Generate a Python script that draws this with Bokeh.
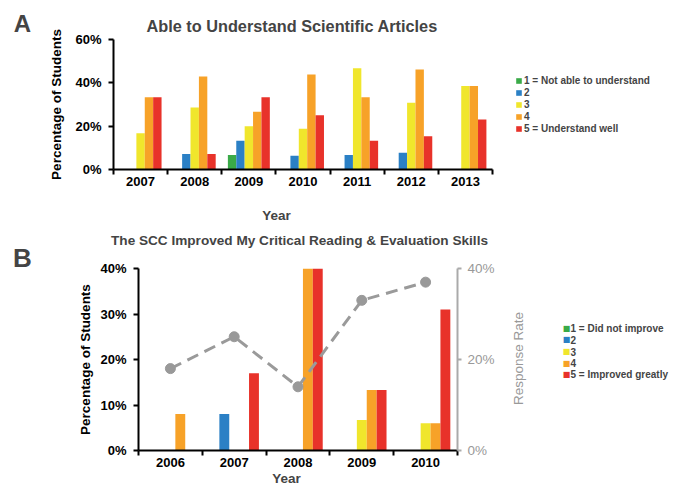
import math
from bokeh.plotting import figure
from bokeh.models import (Range1d, LinearAxis, FixedTicker, PrintfTickFormatter,
                          Legend, LegendItem, Label, ColumnDataSource)
from bokeh.transform import dodge
from bokeh.embed import file_html
from bokeh.resources import INLINE

FONT = "Liberation Sans"

# ---------------- Panel A data ----------------
years_a = ["2007", "2008", "2009", "2010", "2011", "2012", "2013"]
a_s1 = [0, 0, 6.7, 0, 0, 0, 0]
a_s2 = [0, 7.1, 13.3, 6.3, 6.7, 7.7, 0]
a_s3 = [16.7, 28.6, 20.0, 18.8, 46.7, 30.8, 38.5]
a_s4 = [33.3, 42.9, 26.7, 43.8, 33.3, 46.2, 38.5]
a_s5 = [33.3, 7.1, 33.3, 25.0, 13.3, 15.4, 23.1]
a_labels = ["1 = Not able to understand", "2", "3", "4", "5 = Understand well"]
a_yticks = [0, 20, 40, 60]
a_title = "Able to Understand Scientific Articles"

# ---------------- Panel B data ----------------
years_b = ["2006", "2007", "2008", "2009", "2010"]
b_s1 = [0, 0, 0, 0, 0]
b_s2 = [0, 8, 0, 0, 0]
b_s3 = [0, 0, 0, 6.7, 6]
b_s4 = [8, 0, 40, 13.3, 6]
b_s5 = [0, 17, 40, 13.3, 31]
b_rate = [18, 25, 14, 33, 37]
b_labels = ["1 = Did not improve", "2", "3", "4", "5 = Improved greatly"]
b_yticks = [0, 10, 20, 30, 40]
b_rate_ticks = [0, 20, 40]
b_title = "The SCC Improved My Critical Reading & Evaluation Skills"

colors = ["#3aaa48", "#2b80c5", "#f0e62c", "#f7a228", "#e8322a"]
BAR_W = 0.155


def make_panel(years, series, yticks, ymax, letter,
               fw, fh, bl, br, bt, bb, year_px, letter_px, letter_size,
               ylabel_standoff):
    n = len(years)
    H = bt + fh + bb
    p = figure(frame_width=fw, frame_height=fh, output_backend="svg",
               toolbar_location=None,
               x_range=Range1d(0, n), y_range=Range1d(0, ymax),
               min_border_left=bl, min_border_right=br,
               min_border_top=bt, min_border_bottom=bb)
    p.outline_line_color = None
    p.xgrid.visible = False
    p.ygrid.visible = False

    centers = [i + 0.5 for i in range(n)]
    renderers = []
    for k, vals in enumerate(series):
        src = ColumnDataSource(dict(x=centers, top=vals))
        r = p.vbar(x=dodge("x", (k - 2) * BAR_W, range=p.x_range), top="top",
                   width=BAR_W, bottom=0, source=src,
                   fill_color=colors[k], line_color=None)
        renderers.append(r)

    # x axis: labels at category centres, tick marks at boundaries
    xa = p.xaxis[0]
    xa.ticker = FixedTicker(ticks=centers, minor_ticks=list(range(n + 1)))
    xa.major_label_overrides = {c: y for c, y in zip(centers, years)}
    xa.major_tick_line_color = None
    xa.major_tick_out = 0
    xa.major_tick_in = 0
    xa.minor_tick_line_color = "black"
    xa.minor_tick_line_width = 2
    xa.minor_tick_out = 5
    xa.minor_tick_in = 0
    xa.axis_line_width = 2
    xa.axis_line_color = "black"
    xa.major_label_text_font = FONT
    xa.major_label_text_font_style = "bold"
    xa.major_label_text_font_size = "13px"
    xa.major_label_text_color = "black"
    xa.major_label_standoff = 2

    ya = p.yaxis[0]
    ya.ticker = FixedTicker(ticks=yticks)
    ya.formatter = PrintfTickFormatter(format="%d%%")
    ya.major_tick_out = 5
    ya.major_tick_in = 0
    ya.major_tick_line_width = 2
    ya.minor_tick_line_color = None
    ya.axis_line_width = 2
    ya.major_label_text_font = FONT
    ya.major_label_text_font_style = "bold"
    ya.major_label_text_font_size = "13px"
    ya.major_label_text_color = "black"
    ya.major_label_standoff = 7
    ya.axis_label = "Percentage of Students"
    ya.axis_label_text_font = FONT
    ya.axis_label_text_font_style = "bold"
    ya.axis_label_text_font_size = "13.5px"
    ya.axis_label_text_color = "black"
    ya.axis_label_standoff = ylabel_standoff

    # helpers converting figure-pixel positions to data positions
    def dx(px):
        return (px - bl) / fw * n

    def dy(py):
        return (H - bb - py) / fh * ymax

    p.add_layout(Label(x=dx(year_px[0]), y=dy(year_px[1]), text="Year",
                       text_font=FONT, text_font_style="bold",
                       text_font_size="13.5px", text_align="center",
                       text_baseline="middle"), "left")
    p.add_layout(Label(x=dx(letter_px[0]), y=dy(letter_px[1]), text=letter,
                       text_font=FONT, text_font_style="bold",
                       text_font_size=letter_size, text_align="center",
                       text_baseline="middle"), "left")
    return p, centers, renderers, dx, dy


# ---------------- Panel A ----------------
HA = 224
pA, _, rendA, dxA, dyA = make_panel(
    years_a, [a_s1, a_s2, a_s3, a_s4, a_s5], a_yticks, 60, "A",
    fw=379, fh=130, bl=113, br=187, bt=39, bb=55,
    year_px=(276, 215), letter_px=(22, 23), letter_size="24px",
    ylabel_standoff=8)
pA.title.text = a_title
pA.title.text_font = FONT
pA.title.text_font_size = "16.3px"
pA.title.text_font_style = "bold"
pA.title.align = "left"
pA.title.offset = 33

legA = Legend(items=[LegendItem(label=lab, renderers=[r])
                     for lab, r in zip(a_labels, rendA)],
              location=(23, 35), padding=0, margin=0, spacing=0,
              glyph_width=7, glyph_height=7, label_height=12,
              label_standoff=2, label_text_font=FONT,
              label_text_font_size="10px", label_text_font_style="bold",
              border_line_color=None, background_fill_alpha=0)
pA.add_layout(legA, "right")

# ---------------- Panel B ----------------
pB, cB, rendB, dxB, dyB = make_panel(
    years_b, [b_s1, b_s2, b_s3, b_s4, b_s5], b_yticks, 40, "B",
    fw=319, fh=182, bl=138, br=222, bt=44, bb=46,
    year_px=(286, 478 - HA), letter_px=(22, 257 - HA), letter_size="26px",
    ylabel_standoff=4)

# response-rate line on its own (right) axis
pB.extra_y_ranges = {"rate": Range1d(0, 40)}
rate_src = ColumnDataSource(dict(x=cB, rate=b_rate))
pB.line(x="x", y="rate", source=rate_src, y_range_name="rate",
        line_color="#9a9a9a", line_width=3, line_dash="12 7")
pB.scatter(x="x", y="rate", source=rate_src, y_range_name="rate", size=10,
           fill_color="#999999", line_color="#999999")

ra = LinearAxis(y_range_name="rate", ticker=FixedTicker(ticks=b_rate_ticks),
                formatter=PrintfTickFormatter(format="%d%%"))
ra.axis_line_color = "#aaaaaa"
ra.axis_line_width = 2
ra.major_tick_line_color = "#aaaaaa"
ra.major_tick_line_width = 2
ra.major_tick_out = 4
ra.major_tick_in = 0
ra.minor_tick_line_color = None
ra.major_label_text_font = FONT
ra.major_label_text_font_size = "13.5px"
ra.major_label_text_color = "#999999"
ra.major_label_standoff = 6
pB.add_layout(ra, "right")

# right-axis title, reading bottom-to-top like the reference
pB.add_layout(Label(x=dxB(518), y=dyB(358 - HA), text="Response Rate",
                    angle=math.pi / 2, text_font=FONT, text_font_size="13.5px",
                    text_color="#999999", text_align="center",
                    text_baseline="middle"), "left")

# chart title of panel B (placed in the right-hand panel, drawn at data position)
pB.add_layout(Label(x=dxB(299), y=dyB(240 - HA), text=b_title, text_font=FONT,
                    text_font_style="bold", text_font_size="13.6px",
                    text_align="center", text_baseline="middle"), "right")

# legend of panel B: colour keys and labels
LEG_B_X, LEG_B_Y0, LEG_B_DY = 566, 327.7 - HA, 11.65
for i, (lab, col) in enumerate(zip(b_labels, colors)):
    yy = dyB(LEG_B_Y0 + i * LEG_B_DY)
    pB.add_layout(Label(x=dxB(LEG_B_X), y=yy, text="\u25a0",
                        text_font="DejaVu Sans", text_font_size="8px",
                        text_color=col, text_align="center",
                        text_baseline="middle"), "right")
    pB.add_layout(Label(x=dxB(LEG_B_X + 4), y=yy, text=lab, text_font=FONT,
                        text_font_style="bold", text_font_size="10px",
                        text_align="left", text_baseline="middle"), "right")

open("out.html", "w").write(file_html([pA, pB], INLINE))
